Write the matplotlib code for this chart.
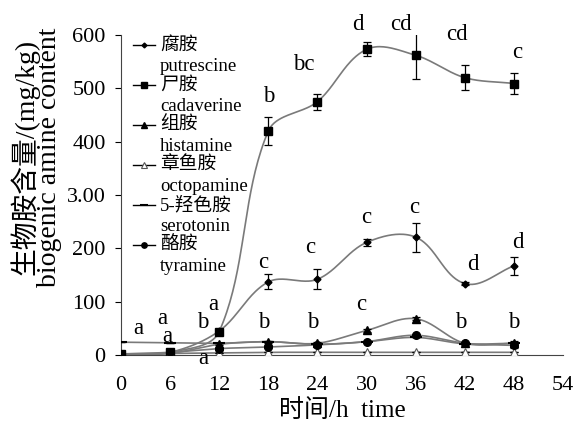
import numpy as np
import matplotlib
matplotlib.use('Agg')
import matplotlib.pyplot as plt
from matplotlib.lines import Line2D

plt.rcParams['font.family'] = ['Liberation Serif', 'Noto Sans CJK SC']

hours = [0, 6, 12, 18, 24, 30, 36, 42, 48]

putrescine = [2, 5, 45, 137, 142, 211, 221, 134, 167]
putrescine_err = [0, 0, 3, 14, 19, 6, 27, 3, 17]
cadaverine = [2, 5, 44, 420, 475, 573, 562, 520, 509]
cadaverine_err = [0, 0, 4, 27, 15, 13, 45, 23, 19]
histamine = [1, 3, 20, 25, 22, 46, 68, 22, 22]
octopamine = [2, 3, 4, 5, 5, 5, 5, 5, 5]
serotonin = [24, 23, 22, 25, 20, 25, 33, 21, 22]
tyramine = [2, 5, 12, 15, 19, 25, 37, 22, 18]
small_err = [0, 0, 2, 2, 2, 2, 3, 2, 4]

names_cn = ['腐胺', '尸胺', '组胺', '章鱼胺', '5-羟色胺', '酪胺']
names_en = ['putrescine', 'cadaverine', 'histamine', 'octopamine', 'serotonin', 'tyramine']

# significance letters: (x, y, letter)
letters = [
    (2.1, 50, 'a'), (5.0, 69, 'a'), (5.6, 34, 'a'), (11.3, 94, 'a'), (10.0, 60, 'b'),
    (10.0, -6, 'a'),
    (18, 484, 'b'), (22.3, 544, 'bc'), (28.9, 619, 'd'), (34.2, 619, 'cd'),
    (41.1, 600, 'cd'), (48.4, 568, 'c'),
    (17.4, 174, 'c'), (23.1, 202, 'c'), (29.9, 257, 'c'), (35.8, 277, 'c'),
    (43.0, 169, 'd'), (48.5, 210, 'd'),
    (17.4, 60, 'b'), (23.4, 60, 'b'), (29.3, 94, 'c'), (41.5, 60, 'b'), (48.0, 60, 'b'),
]

yticks = [0, 100, 200, 300, 400, 500, 600]
ytick_labels = ['0', '100', '200', '3.00', '400', '500', '600']
xticks = [0, 6, 12, 18, 24, 30, 36, 42, 48, 54]

# pixels per data unit, used so the smoothing works in screen space like excel
SX, SY = 442 / 54, 320 / 600


def smooth(x, y, n=40, k=1 / 3):
    p = np.column_stack([np.array(x) * SX, np.array(y) * SY]).astype(float)
    m = len(p)
    tang = []
    for i in range(m):
        a = p[max(i - 1, 0)]
        b = p[min(i + 1, m - 1)]
        d = b - a
        tang.append(d / (np.hypot(*d) or 1))
    xs, ys = [], []
    for i in range(m - 1):
        p1, p2 = p[i], p[i + 1]
        L = np.hypot(*(p2 - p1)) * k
        c1 = p1 + tang[i] * L
        c2 = p2 - tang[i + 1] * L
        t = np.linspace(0, 1, n)[:, None]
        b = (1 - t) ** 3 * p1 + 3 * (1 - t) ** 2 * t * c1 + 3 * (1 - t) * t ** 2 * c2 + t ** 3 * p2
        xs.extend(b[:, 0] / SX)
        ys.extend(b[:, 1] / SY)
    return xs, ys


fig = plt.figure(figsize=(5.77, 4.21), dpi=100)
ax = fig.add_axes([0.2097, 0.1568, 0.7660, 0.7601])

series = [
    (putrescine, putrescine_err, dict(marker='D', ms=3.5, mfc='black', mec='black')),
    (cadaverine, cadaverine_err, dict(marker='s', ms=6, mfc='black', mec='black')),
    (histamine, small_err, dict(marker='^', ms=5.5, mfc='black', mec='black')),
    (octopamine, [0] * 9, dict(marker='^', ms=5.5, mfc='white', mec='#555555', mew=0.8)),
    (serotonin, [0] * 9, dict(marker='_', ms=8, mec='black', mew=1.5)),
    (tyramine, small_err, dict(marker='o', ms=5.5, mfc='black', mec='black')),
]

for vals, err, mk in series:
    sx, sy = smooth(hours, vals)
    ax.plot(sx, sy, color='#7a7a7a', lw=1.2, zorder=2)
    ax.errorbar(hours, vals, yerr=err, fmt='none', ecolor='black', elinewidth=0.9,
                capsize=3, capthick=0.9, zorder=3)
    ax.plot(hours, vals, ls='none', zorder=4, **mk)

for x, y, s in letters:
    ax.text(x, y, s, ha='center', va='center', fontsize=16.5, clip_on=False)

# legend drawn by hand: marker line, chinese name, english name under it
for i, (cn, en) in enumerate(zip(names_cn, names_en)):
    ytop = (355 - (45 + 40 * i)) / 320
    ybot = (355 - (67 + 40 * i)) / 320
    mk = series[i][2]
    ax.add_line(Line2D([0.027, 0.077], [ytop, ytop], color='black', lw=1.0,
                       transform=ax.transAxes))
    ax.add_line(Line2D([0.052], [ytop], ls='none', transform=ax.transAxes,
                       **dict(mk, ms=mk['ms'] * 0.7)))
    ax.text(0.088, ytop, cn, transform=ax.transAxes, fontsize=13.5, va='center', ha='left')
    ax.text(0.088, ybot, en, transform=ax.transAxes, fontsize=13.5, va='center', ha='left')

ax.set_xlim(0, 54)
ax.set_ylim(0, 600)
ax.set_yticks(yticks)
ax.set_yticklabels(ytick_labels)
ax.set_xticks(xticks)
ax.tick_params(axis='y', direction='out', length=4, width=0.8, labelsize=16, pad=7)
ax.tick_params(axis='x', length=0, labelsize=16, pad=15)
for side in ['top', 'right']:
    ax.spines[side].set_visible(False)
for side in ['left', 'bottom']:
    ax.spines[side].set_color('#444444')
    ax.spines[side].set_linewidth(0.8)

fig.text(0.062, 0.627, '生物胺含量/(mg/kg)\nbiogenic amine content', rotation=90,
         ha='center', va='center', multialignment='center', fontsize=20, linespacing=0.9)
fig.text(0.593, 0.026, '时间/h  time', ha='center', va='center', fontsize=18)

fig.savefig('out.png', dpi=100)
